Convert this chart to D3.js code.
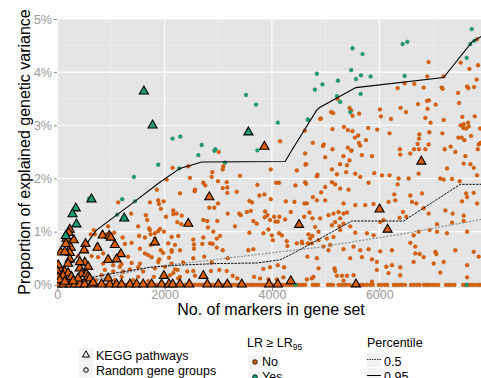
<!DOCTYPE html>
<html><head><meta charset="utf-8">
<script src="https://cdn.jsdelivr.net/npm/d3@7"></script>
<style>body{margin:0;background:#fff;} svg{display:block;font-family:"Liberation Sans",Arial,Helvetica,sans-serif;}</style>
</head><body><svg id="c" width="481" height="378"></svg>
<script>
// ---------- data (x = no. of markers, y = % explained variance) ----------
const xTicks = [0, 2000, 4000, 6000];
const xMinor = [1000, 3000, 5000, 7000];
const yTicks = [0, 1, 2, 3, 4, 5];
const yMinor = [0.5, 1.5, 2.5, 3.5, 4.5];

const randomNo = [
[4152,2.70],[4613,2.90],[4762,2.67],[4898,3.12],
[7822,4.62],[6919,4.19],[7516,4.18],[7841,4.13],[7679,4.06],[6895,3.92],[7199,3.92],[7815,3.86],[6341,3.70],[6471,3.79],[6652,3.78],[6826,3.71],[7162,3.71],[7181,3.69],[7636,3.73],[7660,3.70],[7766,3.72],[7468,3.61],[5221,3.50],[6889,3.46],[6927,3.47],[6721,3.40],[7050,3.39],[7486,3.42],[6397,3.33],[6900,3.31],[6497,3.25],[5445,3.33],[5477,3.28],[5103,3.25],[5141,3.23],[5626,3.22],[5501,3.18],[6012,3.30],[6031,3.17],[6218,3.12],[6858,3.14],[7199,3.10],[7548,3.16],[7778,3.17],[4911,3.13],[6956,3.05],[7516,3.00],[7654,3.05],[7572,3.02],[5341,2.97],[5128,2.93],[5415,2.91],[5501,2.89],[5794,2.95],[5962,2.92],[6932,2.87],[7567,2.95],[7617,2.94],[7666,2.98],[7880,2.94],[6191,2.85],[6746,2.83],[7175,2.85],[5607,2.81],[5546,2.77],[5751,2.72],[6740,2.75],[7473,2.77],[7535,2.77],[7585,2.72],[7710,2.80],[5620,2.67],[6714,2.65],[6919,2.64],[4967,2.64],[4949,2.61],[7852,2.64],[7885,2.67],[5128,2.55],[5415,2.58],[5482,2.53],[5645,2.62],[6385,2.55],[6647,2.55],[6740,2.55],[6858,2.55],[7218,2.55],[7330,2.60],[7834,2.55],
[3008,2.50],[4618,2.47],[2150,2.20],[2441,2.23],[3094,2.23],[2889,2.12],[3083,2.17],[4624,2.26],[4463,2.15],[4837,2.04],[3978,2.17],[3405,2.05],[2472,2.01],[2038,1.98],[2877,2.03],[3157,1.93],[2995,1.95],[4618,1.93],[4437,1.87],[4077,1.92],[4133,1.92],[3728,1.88],[2721,1.92],[2758,1.87],[2566,1.79],[2560,1.76],[3083,1.82],[3168,1.83],[3168,1.73],[3344,1.75],[2286,1.72],[1857,1.79],[3859,1.70],[3766,1.68],[3978,1.61],[4258,1.57],[3579,1.58],[3629,1.55],[4762,1.65],[4837,1.59],[4605,1.53],[4419,1.56],[2995,1.53],[2926,1.45],[2833,1.45],[1982,1.57],[1894,1.52],[1726,1.55],[1931,1.43],[2161,1.40],[2224,1.34],[2161,1.33],[3176,1.34],[3392,1.34],[3419,1.31],[3531,1.37],[3605,1.39],[3872,1.38],[3915,1.31],[3866,1.27],[3965,1.22],[4040,1.28],[4139,1.28],[4245,1.23],[4109,1.19],[4064,1.19],[4352,1.37],[4699,1.36],[4755,1.25],[4600,1.28],[3654,1.20],[3717,1.15],[2721,1.22],[2795,1.20],[2982,1.20],[2318,1.30],[2025,1.28],[2236,1.18],[2310,1.14],[3312,1.10],[2808,1.08],[1913,1.05],[1987,1.00],[1881,1.01],[1726,1.03],[1739,0.95],[2907,1.00],[3032,0.92],[2971,0.87],[2846,0.78],[2721,0.89],[2534,0.85],[2702,0.77],[2896,0.77],[2547,0.76],[2547,0.68],[2971,0.70],[3083,0.65],[2286,0.65],[2131,0.65],[1926,0.65],[1739,0.75],[3579,0.98],[3840,0.97],[3934,1.04],[3997,0.93],[4133,0.97],[4016,0.84],[4277,0.82],[4288,0.73],[4184,0.93],[4755,0.92],[4669,0.78],[4562,0.78],[4463,0.78],[4867,0.84],[3560,0.65],[3654,0.67],[3176,0.50],[2739,0.53],[2534,0.50],[2081,0.51],[1900,0.48],[1758,0.52],[2347,0.42],[2877,0.42],[4109,0.37],[4227,0.33],[3965,0.33],[3840,0.30],[3157,0.26],[2864,0.26],[3019,0.28],[2534,0.26],[2422,0.25],[2243,0.28],[2161,0.22],[1801,0.15],[2286,0.15],[2566,0.17],[3269,0.17],[3355,0.12],[3667,0.15],[3779,0.12],[3934,0.10],[4090,0.10],[4213,0.14],[4773,0.15],[4650,0.10],
[5477,2.52],[5333,2.42],[5676,2.44],[5863,2.42],[6391,2.45],[6578,2.47],[7417,2.50],[7604,2.42],[4992,2.40],[4637,2.27],[5445,2.34],[5397,2.25],[5271,2.27],[5117,2.17],[5383,2.12],[5552,2.09],[5210,2.08],[4848,2.07],[5645,2.03],[5906,2.10],[6050,2.06],[6191,2.06],[5800,1.92],[6360,2.00],[6341,1.89],[6546,2.00],[6733,2.09],[7262,2.19],[7572,2.28],[7697,2.27],[7759,2.20],[7822,2.06],[7137,2.00],[7356,1.99],[7498,1.95],[7199,1.98],[7617,1.72],[7636,1.65],[7759,1.73],[7542,1.57],[7822,1.53],[7231,1.40],[7367,1.34],[7572,1.30],[6919,1.34],[5117,1.93],[4992,1.84],[5178,1.89],[5271,1.81],[5426,1.79],[4917,1.74],[4637,1.90],[4650,1.53],[4992,1.59],[5333,1.53],[5552,1.50],[5738,1.50],[5893,1.52],[6173,1.56],[6279,1.70],[6298,1.59],[6578,1.68],[6796,1.72],[6609,1.56],[6690,1.53],[6826,1.44],[6441,1.37],[6503,1.28],[6378,1.26],[6018,1.18],[6080,1.22],[5397,1.36],[5147,1.34],[5240,1.37],[5333,1.34],[5053,1.31],[4898,1.25],[5271,1.25],[5178,1.18],[5333,1.15],[5117,1.12],[5258,1.10],[5458,1.10],[4805,1.09],[4867,1.00],[4680,0.95],[5023,0.87],[5147,0.90],[5271,1.03],[5552,0.98],[5770,0.97],[5893,0.93],[6640,0.93],[6733,1.00],[6938,1.03],[7076,1.00],[7262,0.97],[7636,1.00],[7076,1.14],[7356,1.17],[7572,1.20],[4712,0.87],[4557,0.81],[4743,0.78],[4960,0.72],[5085,0.75],[5053,0.65],[5333,0.67],[5520,0.72],[5645,0.65],[5800,0.67],[6018,0.63],[6578,0.79],[6671,0.72],[6236,0.65],[6671,0.59],[6752,0.58],[7044,0.62],[7063,0.58],[7417,0.65],[7759,0.62],[4661,0.53],[4837,0.50],[5458,0.50],[5676,0.52],[5863,0.48],[5956,0.43],[6236,0.37],[6130,0.34],[6391,0.33],[6640,0.43],[6826,0.52],[7013,0.40],[7199,0.43],[7636,0.37],[7852,0.53],[4867,0.31],[5165,0.31],[5178,0.26],[5956,0.28],[6173,0.22],[6391,0.18],[7636,0.14],[4743,0.12],[5210,0.17],[5303,0.17],[5397,0.17],[5520,0.18],[7137,0.23],[5333,0.08],[5863,0.06],
[1135,1.55],[1881,1.59],[1377,1.34],[1651,1.31],[1676,1.22],[1508,1.10],[1713,1.06],[681,1.03],[948,1.10],[1060,0.98],[625,0.95],[1526,0.92],[1633,0.89],[1819,0.87],[700,0.95],[918,0.95],[825,0.92],[1217,0.89],[1819,0.97],[2131,0.90],[2254,0.92],[750,0.75],[1260,0.77],[1540,0.68],[1385,0.79],[1788,0.77],[2068,0.78],[2193,0.75],[1633,0.59],[1974,0.60],[2131,0.62],[1694,0.56],[545,0.64],[388,0.54],[638,0.54],[761,0.52],[855,0.59],[1321,0.53],[1385,0.41],[1198,0.39],[1041,0.37],[1540,0.40],[1508,0.33],[1353,0.29],[1166,0.34],[855,0.40],[886,0.28],[1041,0.25],[1228,0.25],[1601,0.25],[1819,0.31],[2006,0.34],[2131,0.40],[1881,0.43],[2193,0.29],[2099,0.18],[1508,0.15],[1198,0.15],[825,0.18],[731,0.09],[1073,0.09],[1414,0.09],[1694,0.07],[2254,0.12]
];

const randomYes = [
[3517,3.57],[3704,3.39],[4109,3.05],[4837,3.97],[4800,3.67],[4675,3.10],[2149,2.75],[2292,2.79],[2691,2.63],[2945,2.55],[3729,2.53],
[7722,4.81],[7772,4.59],[7697,4.53],[7628,4.27],[6434,4.53],[6522,4.57],[5501,4.45],[5688,4.34],[5477,4.04],[4941,3.77],[5229,3.84],[5565,3.87],[5658,3.94],[5837,3.92],[5651,3.59],[6471,3.93],[5210,3.55],[5271,3.44],[5458,3.25],[4669,3.11],
[2628,2.44],[1881,2.26],[3126,2.30],[2926,2.52],[2273,2.19],[1428,2.03],[1209,1.61],[1446,1.57],[1116,1.32],[593,1.62]
];

const baselineNo = [20,60,95,130,170,210,250,290,330,370,410,450,490,530,575,620,660,700,745,790,830,875,920,960,1010,1050,1095,1140,1185,1230,1270,1320,1360,1410,1450,1500,1540,1590,1630,1680,1720,1770,1810,1860,1900,1950,1990,2040,2090,2130,2180,2230,2270,2320,2370,2410,2460,2510,2550,2600,2650,2700,2740,2790,2840,2880,2930,2980,3030,3070,3120,3170,3220,3260,3310,3360,3410,3450,3500,3550,3600,3640,3690,3740,3790,3830,3880,3930,3980,4020,4070,4120,4170,4210,4260,4310,4350,4400,
4470,4520,4570,4620,4760,4810,4860,5040,5090,5140,5240,5290,5340,5390,5450,5560,5610,5660,5710,5770,5830,5880,5990,6040,6100,6150,6270,6320,6370,6420,6480,6590,6640,6700,6750,6830,6880,6930,6990,7040,7100,7240,7290,7340,7400,7560,7610,7660,7710,7760,7820,7870];
const baselineYes = [4440, 7630];

const keggNo = [
[3859,2.60],[6783,2.32],[6005,1.42],[6154,1.04],[5564,0.01],
[2833,1.65],[2441,1.15],[1819,0.80],[4506,1.13],[1987,0.17],[2721,0.17],[4351,0.07],
[843,0.93],[967,0.92],[998,0.89],[233,1.04],[215,0.98],
[252,0.70],[65,0.61],[233,0.60],[140,0.62],[526,0.77],[500,0.65],[1073,0.75],[1185,0.58],[750,0.70],[948,0.47],[1105,0.48],[513,0.42],[233,0.48],[202,0.40],[420,0.31],[575,0.34],[47,0.31],[15,0.37],[5,0.25],[140,0.25],[202,0.22],[108,0.17],[265,0.15],[452,0.20],[545,0.20],[388,0.12],[575,0.15],[606,0.12],[15,0.14],[47,0.09],[140,0.06],[295,0.07],[948,0.12],[668,0.04],
[172,0.87],[159,0.77],[308,0.84],[420,0.43]
];
const keggNoBaseline = [5,108,233,327,420,513,638,825,980,1105,1198,1353,1478,1601,1758,1944,2081,2150,2286,2459,2795,3000,3168,3437,3947,4109];
const keggYes = [[1614,3.64],[1776,3.00],[3561,2.87],[638,1.61],[345,1.44],[284,1.33],[1247,1.25],[358,1.14],[159,0.92]];

const pct95 = [[47,0.31],[295,0.43],[731,1.03],[1353,1.50],[1912,1.93],[2285,2.19],[2690,2.31],[4244,2.32],[4370,2.53],[4837,3.29],[4897,3.34],[5563,3.71],[7198,3.90],[7728,4.57],[7900,4.67]];
const pct50 = [[10,0.00],[793,0.17],[1726,0.33],[2285,0.37],[2976,0.40],[3722,0.41],[4151,0.47],[4394,0.59],[5489,1.20],[6451,1.20],[7509,1.89],[7900,1.89]];
const trendGrey = [[10,0.00],[643,0.07],[1726,0.33],[3312,0.52],[4898,0.71],[6391,0.95],[7900,1.23]];

// ---------- drawing ----------
const ORANGE = "#D95F02", TEAL = "#1B9E77";
const svg = d3.select("#c");
const P = {l:57, r:481, t:19, b:288};
const x = d3.scaleLinear().domain([-5, 7895]).range([P.l, P.r]);
const y = d3.scaleLinear().domain([-0.06, 5]).range([P.b, P.t]);

svg.append("defs").append("clipPath").attr("id","clip")
  .append("rect").attr("x",P.l).attr("y",P.t).attr("width",P.r-P.l).attr("height",P.b-P.t);

svg.append("rect").attr("x",P.l).attr("y",P.t).attr("width",P.r-P.l).attr("height",P.b-P.t).attr("fill","#E5E5E5");
const grid = svg.append("g").attr("clip-path","url(#clip)");
grid.selectAll(".xm").data(xMinor).join("line").attr("x1",d=>x(d)).attr("x2",d=>x(d)).attr("y1",P.t).attr("y2",P.b).attr("stroke","#F2F2F2").attr("stroke-width",0.6);
grid.selectAll(".ym").data(yMinor).join("line").attr("y1",d=>y(d)).attr("y2",d=>y(d)).attr("x1",P.l).attr("x2",P.r).attr("stroke","#F2F2F2").attr("stroke-width",0.6);
grid.selectAll(".xM").data(xTicks).join("line").attr("x1",d=>x(d)).attr("x2",d=>x(d)).attr("y1",P.t).attr("y2",P.b).attr("stroke","#fff").attr("stroke-width",1.1);
grid.selectAll(".yM").data(yTicks).join("line").attr("y1",d=>y(d)).attr("y2",d=>y(d)).attr("x1",P.l).attr("x2",P.r).attr("stroke","#fff").attr("stroke-width",1.1);

// axes
const xAxis = d3.axisBottom(x).tickValues(xTicks).tickSize(3).tickFormat(d3.format("d"));
const yAxis = d3.axisLeft(y).tickValues(yTicks).tickSize(3).tickPadding(2).tickFormat(d => d + "%");
const gx = svg.append("g").attr("transform",`translate(0,${P.b})`).call(xAxis);
const gy = svg.append("g").attr("transform",`translate(${P.l},0)`).call(yAxis);
[gx, gy].forEach(g => {
  g.select(".domain").remove();
  g.selectAll(".tick line").attr("stroke","#8a8a8a");
  g.selectAll(".tick text").attr("fill","#999").attr("font-size",12.5).attr("font-family","Liberation Sans, Arial, sans-serif");
});
gx.selectAll(".tick text").attr("y",2).attr("dy","0.71em");

const plot = svg.append("g").attr("clip-path","url(#clip)");
// random gene groups
plot.selectAll(".bn").data(baselineNo).join("circle").attr("cx",d=>x(d)).attr("cy",y(0)).attr("r",1.9).attr("fill",ORANGE).attr("stroke","#B54F02").attr("stroke-width",0.4);
plot.selectAll(".rn").data(randomNo).join("circle").attr("cx",d=>x(d[0])).attr("cy",d=>y(d[1])).attr("r",1.9).attr("fill",ORANGE).attr("stroke","#B54F02").attr("stroke-width",0.4);
plot.selectAll(".by").data(baselineYes).join("circle").attr("cx",d=>x(d)).attr("cy",y(0)).attr("r",1.9).attr("fill",TEAL).attr("stroke","#147a5c").attr("stroke-width",0.4);
plot.selectAll(".ry").data(randomYes).join("circle").attr("cx",d=>x(d[0])).attr("cy",d=>y(d[1])).attr("r",1.9).attr("fill",TEAL).attr("stroke","#147a5c").attr("stroke-width",0.4);

// percentile lines
const line = d3.line().x(d=>x(d[0])).y(d=>y(d[1]));
plot.append("path").datum(trendGrey).attr("d",line).attr("fill","none").attr("stroke","#8f8f8f").attr("stroke-width",1.2).attr("stroke-dasharray","2,1.5");
plot.append("path").datum(pct50).attr("d",line).attr("fill","none").attr("stroke","#111").attr("stroke-width",1).attr("stroke-dasharray","2.5,1");
plot.append("path").datum(pct95).attr("d",line).attr("fill","none").attr("stroke","#000").attr("stroke-width",1.1);

// KEGG pathways
const tri = d3.symbol(d3.symbolTriangle).size(36);
plot.selectAll(".kb").data(keggNoBaseline).join("path").attr("d",tri).attr("transform",d=>`translate(${x(d)},${y(0)-0.5})`).attr("fill",ORANGE).attr("stroke","#000").attr("stroke-width",1.1);
plot.selectAll(".kn").data(keggNo).join("path").attr("d",tri).attr("transform",d=>`translate(${x(d[0])},${y(d[1])})`).attr("fill",ORANGE).attr("stroke","#000").attr("stroke-width",1.1);
plot.selectAll(".ky").data(keggYes).join("path").attr("d",tri).attr("transform",d=>`translate(${x(d[0])},${y(d[1])})`).attr("fill",TEAL).attr("stroke","#000").attr("stroke-width",1.1);

// axis titles
svg.append("text").attr("x",271).attr("y",315).attr("text-anchor","middle").attr("font-size",16).attr("fill","#000").text("No. of markers in gene set");
svg.append("text").attr("transform","translate(30,152) rotate(-90)").attr("text-anchor","middle").attr("font-size",16).attr("fill","#000").text("Proportion of explained genetic variance");

// legends
const lg = svg.append("g").attr("font-size",12.5).attr("fill","#000");
const keyBox = (cx, cy) => lg.append("rect").attr("x",cx-7).attr("y",cy-7).attr("width",14).attr("height",14).attr("fill","#F2F2F2");
// shape legend
keyBox(86,355);
lg.append("path").attr("d",d3.symbol(d3.symbolTriangle).size(22)).attr("transform","translate(86,355)").attr("fill","none").attr("stroke","#000").attr("stroke-width",1);
lg.append("text").attr("x",96).attr("y",359.5).text("KEGG pathways");
keyBox(86,370);
lg.append("circle").attr("cx",86).attr("cy",370).attr("r",2.3).attr("fill","none").attr("stroke","#000").attr("stroke-width",1);
lg.append("text").attr("x",96).attr("y",374.5).text("Random gene groups");
// colour legend
const t1 = lg.append("text").attr("x",247).attr("y",347.3);
t1.append("tspan").text("LR \u2265 LR");
t1.append("tspan").attr("font-size",8.5).attr("dy",3).text("95");
keyBox(255,362);
lg.append("circle").attr("cx",255).attr("cy",362).attr("r",2.3).attr("fill",ORANGE).attr("stroke","#000").attr("stroke-width",0.8);
lg.append("text").attr("x",262).attr("y",366).text("No");
keyBox(255,377);
lg.append("circle").attr("cx",255).attr("cy",377).attr("r",2.3).attr("fill",TEAL).attr("stroke","#000").attr("stroke-width",0.8);
lg.append("text").attr("x",262).attr("y",381).text("Yes");
// percentile legend
lg.append("text").attr("x",367).attr("y",347.3).text("Percentile");
keyBox(374,360);
lg.append("line").attr("x1",367).attr("x2",381).attr("y1",359.5).attr("y2",359.5).attr("stroke","#000").attr("stroke-width",0.8).attr("stroke-dasharray","1.5,1");
lg.append("text").attr("x",384).attr("y",366).text("0.5");
keyBox(374,375);
lg.append("line").attr("x1",367).attr("x2",381).attr("y1",375.5).attr("y2",375.5).attr("stroke","#000").attr("stroke-width",1);
lg.append("text").attr("x",384).attr("y",381).text("0.95");
</script></body></html>
